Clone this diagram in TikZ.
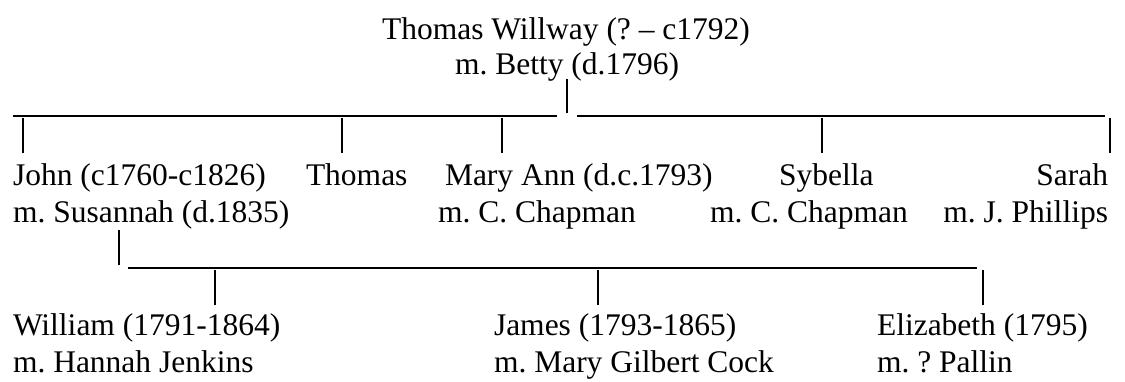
\documentclass[tikz,border=0pt]{standalone}
\usepackage{fontspec}
\setmainfont{Liberation Serif}
\frenchspacing
\begin{document}
\begin{tikzpicture}[x=1pt,y=-1pt,
  txt/.style={inner sep=0pt, outer sep=0pt, font=\fontsize{31.5}{36}\selectfont, text=black},
  lw/.style={txt, anchor=base west},
  link/.style={line width=1.2pt, black}]
\useasboundingbox (0,0) rectangle (1125,381);
% parents
\node[txt, anchor=base] (tw) at (566,39) {Thomas Willway (? – c1792)};
\node[txt, anchor=base] (tb) at (567,74) {m. Betty (d.1796)};
% children row
\node[lw] (john)  at (13,185)  {John (c1760-c1826)};
\node[lw] (johnm) at (13,222)  {m. Susannah (d.1835)};
\node[lw] (thom)  at (306,185) {Thomas};
\node[lw] (mary)  at (445,185) {Mary Ann (d.c.1793)};
\node[lw] (marym) at (438,222) {m. C. Chapman};
\node[lw] (syb)   at (779,185) {Sybella};
\node[lw] (sybm)  at (710,222) {m. C. Chapman};
\node[txt, anchor=base east] (sar)  at (1108,185) {Sarah};
\node[txt, anchor=base east] (sarm) at (1108,222) {m. J. Phillips};
% grandchildren row
\node[lw] (wil)   at (13,335)  {William (1791-1864)};
\node[lw] (wilm)  at (13,372)  {m. Hannah Jenkins};
\node[lw] (jam)   at (494,335) {James (1793-1865)};
\node[lw] (jamm)  at (494,372) {m. Mary Gilbert Cock};
\node[lw] (eli)   at (877,335) {Elizabeth (1795)};
\node[lw] (elim)  at (877,372) {m. ? Pallin};
% connector coordinates, first generation
\coordinate (p0t) at (567,79);  \coordinate (p0b) at (567,113);
\coordinate (l1a) at (13,116);  \coordinate (l1b) at (557,116);
\coordinate (r1a) at (577,116); \coordinate (r1b) at (1105,116);
\coordinate (c1t) at (23,118);   \coordinate (c1b) at (23,153);
\coordinate (c2t) at (342,118);  \coordinate (c2b) at (342,153);
\coordinate (c3t) at (502,118);  \coordinate (c3b) at (502,153);
\coordinate (c4t) at (822,118);  \coordinate (c4b) at (822,153);
\coordinate (c5t) at (1110,118); \coordinate (c5b) at (1110,153);
% second generation
\coordinate (p1t) at (119,230); \coordinate (p1b) at (119,265);
\coordinate (l2a) at (128,268); \coordinate (l2b) at (977,268);
\coordinate (g1t) at (215,270); \coordinate (g1b) at (215,305);
\coordinate (g2t) at (598,270); \coordinate (g2b) at (598,305);
\coordinate (g3t) at (983,270); \coordinate (g3b) at (983,305);
\draw[link] (p0t) -- (p0b);
\draw[link] (l1a) -- (l1b);
\draw[link] (r1a) -- (r1b);
\foreach \c in {c1,c2,c3,c4,c5} \draw[link] (\c t) -- (\c b);
\draw[link] (p1t) -- (p1b);
\draw[link] (l2a) -- (l2b);
\foreach \c in {g1,g2,g3} \draw[link] (\c t) -- (\c b);
\end{tikzpicture}
\end{document}
